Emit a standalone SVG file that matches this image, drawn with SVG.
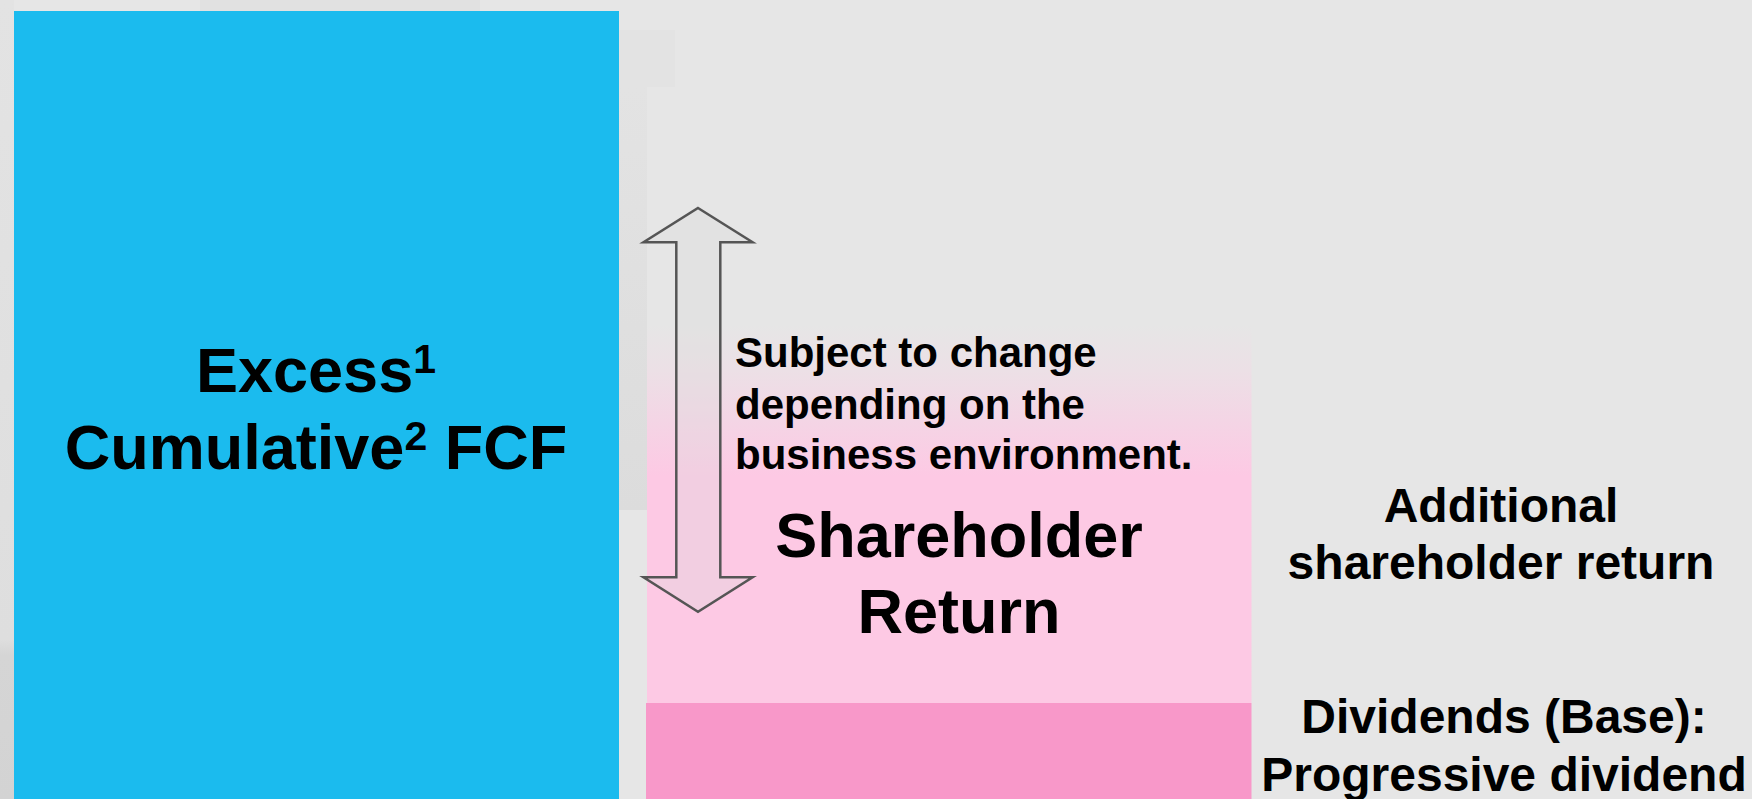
<svg xmlns="http://www.w3.org/2000/svg" width="1752" height="799" viewBox="0 0 1752 799">
  <defs>
    <linearGradient id="pinkFade" x1="0" y1="325" x2="0" y2="703" gradientUnits="userSpaceOnUse">
      <stop offset="0" stop-color="#e6e6e6"/>
      <stop offset="0.12" stop-color="#ece0e6"/>
      <stop offset="0.4" stop-color="#fdc9e4"/>
      <stop offset="1" stop-color="#fdc9e4"/>
    </linearGradient>
    <linearGradient id="leftShade" x1="0" y1="0" x2="0" y2="799" gradientUnits="userSpaceOnUse">
      <stop offset="0" stop-color="#e3e3e3"/>
      <stop offset="0.8" stop-color="#dedede"/>
      <stop offset="0.82" stop-color="#d5d5d5"/>
      <stop offset="1" stop-color="#d3d3d3"/>
    </linearGradient>
    <linearGradient id="stripShade" x1="0" y1="87" x2="0" y2="510" gradientUnits="userSpaceOnUse">
      <stop offset="0" stop-color="#e3e3e3"/>
      <stop offset="1" stop-color="#dcdcdc"/>
    </linearGradient>
  </defs>
  <style>
    .t { font-family: "Liberation Sans", Arial, sans-serif; font-weight: bold; fill: #000; }
    .big { font-size: 63px; }
    .sup { font-size: 41px; }
    .mid { font-size: 48px; }
    .small { font-size: 42px; }
    .arrow { fill: #d9d9d9; fill-opacity: 0.3; stroke: #555555; stroke-width: 2.5; stroke-linejoin: miter; }
  </style>

  <!-- background -->
  <rect x="0" y="0" width="1752" height="799" fill="#e6e6e6"/>
  <g id="background-shading">
    <rect x="0" y="0" width="14" height="799" fill="url(#leftShade)"/>
    <rect x="200" y="0" width="280" height="11" fill="#e1e1e1"/>
    <rect x="619" y="30" width="56" height="57" fill="#e3e3e3"/>
    <rect x="619" y="87" width="28" height="423" fill="url(#stripShade)"/>
  </g>

  <g id="node-fcf">
    <rect x="14" y="11" width="605" height="788" fill="#1bbbee"/>
    <text class="t big" x="316" y="392" text-anchor="middle">Excess<tspan class="sup" dy="-19">1</tspan></text>
    <text class="t big" x="316" y="469" text-anchor="middle">Cumulative<tspan class="sup" dy="-19">2</tspan><tspan dy="19"> FCF</tspan></text>
  </g>

  <g id="node-shareholder-return">
    <rect x="647" y="325" width="604.5" height="378" fill="url(#pinkFade)"/>
    <text class="t big" x="959" y="557" text-anchor="middle">Shareholder</text>
    <text class="t big" x="959" y="633" text-anchor="middle">Return</text>
  </g>

  <g id="node-dividends">
    <rect x="646" y="703" width="605.5" height="96" fill="#f898c9"/>
  </g>

  <g id="connectors">
    <polygon class="arrow" points="698,208 752.6,242.3 720.3,242.3 720.3,577.3 752.6,577.3 698,611.7 643.5,577.3 676.3,577.3 676.3,242.3 643.5,242.3"/>
  </g>

  <g id="note-subject">
    <text class="t small" x="735" y="367">Subject to change</text>
    <text class="t small" x="735" y="419">depending on the</text>
    <text class="t small" x="735" y="469">business environment.</text>
  </g>

  <g id="label-additional">
    <text class="t mid" x="1501" y="522" text-anchor="middle">Additional</text>
    <text class="t mid" x="1501" y="579" text-anchor="middle">shareholder return</text>
  </g>

  <g id="label-dividends">
    <text class="t mid" x="1504" y="733" text-anchor="middle">Dividends (Base):</text>
    <text class="t mid" x="1504" y="791" text-anchor="middle">Progressive dividend</text>
  </g>
</svg>
